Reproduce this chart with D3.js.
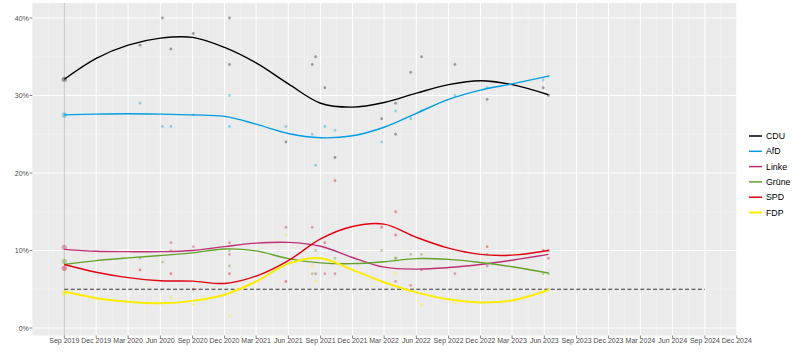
<!DOCTYPE html>
<html>
<head>
<meta charset="utf-8">
<script src="https://cdn.jsdelivr.net/npm/d3@7"></script>
<style>
  html, body { margin: 0; padding: 0; background: #ffffff; }
  svg { display: block; font-family: "Liberation Sans", Arial, sans-serif; }
</style>
</head>
<body>
<svg id="chart" width="800" height="356"></svg>
<script>
// ---------- data ----------
const parties = ["CDU", "AfD", "Linke", "Grüne", "SPD", "FDP"];
const partyColors = ["#000000", "#009EE0", "#BE3075", "#64A12D", "#E3000F", "#FFED00"];

const xTickLabels = ["Sep 2019","Dec 2019","Mar 2020","Jun 2020","Sep 2020","Dec 2020","Mar 2021","Jun 2021",
  "Sep 2021","Dec 2021","Mar 2022","Jun 2022","Sep 2022","Dec 2022","Mar 2023","Jun 2023","Sep 2023",
  "Dec 2023","Mar 2024","Jun 2024","Sep 2024","Dec 2024"];
const yTickValues = [0, 10, 20, 30, 40];
const yMinorValues = [5, 15, 25, 35];

const electionDates = ["2019-09-01", "2024-09-01"];
const thresholdValue = 5;

// polls (election result first)
const pollDates = ["2019-09-01","2020-04-04","2020-06-07","2020-07-01","2020-09-03","2020-12-15","2020-12-15",
  "2021-05-25","2021-08-08","2021-08-18","2021-09-13","2021-10-12","2022-02-22","2022-04-03","2022-04-03",
  "2022-05-16","2022-06-16","2022-09-19","2022-12-20","2023-05-29","2023-06-13"];
const pollCDU   = [32.1, 36.5, 40, 36, 38, 34, 40, 24, 34, 35, 31, 22, 27, 29, 25, 33, 35, 34, 29.5, 31, 30];
const pollAfD   = [27.5, 29, 26, 26, 27.5, 26, 30, 26, 25, 21, 26, 25.5, 24, 28, null, 27, 28, 30, 31, 32, 32.5];
const pollLinke = [10.4, null, null, 11, 10.5, 11, 9.5, 13, 13, 7, 7, 7, null, 6, null, 5.5, 7.5, 7, 8, null, 9];
const pollGruene= [8.6, 9, 8.5, 10, null, 10, 8, null, 7, 10, null, 9, 10, 9, 9, 9.5, 9.5, null, 9.5, 7, 7];
const pollSPD   = [7.7, 7.5, null, 7, 5, 7, null, 6, null, null, 11, 19, 13, 15, 12, null, null, null, 10.5, 10, 10];
const pollFDP   = [4.5, null, null, 4, 3, 1.6, null, 12, 8, 6, null, null, null, null, 7, null, 3, 3.2, null, null, 5];

// smoothed trend lines
const trendDates = ["2019-09-01","2019-12-01","2020-03-01","2020-06-01","2020-09-01","2020-12-01","2021-03-01",
  "2021-06-01","2021-09-01","2021-12-01","2022-03-01","2022-06-01","2022-09-01","2022-12-01","2023-03-01","2023-06-13"];
const trendCDU   = [32.1, 34.8, 36.5, 37.4, 37.5, 36.2, 34.2, 31.5, 29.0, 28.5, 29.1, 30.3, 31.4, 31.9, 31.4, 30.1];
const trendAfD   = [27.5, 27.6, 27.65, 27.6, 27.5, 27.3, 26.3, 25.1, 24.55, 24.8, 25.9, 27.7, 29.5, 30.7, 31.5, 32.5];
const trendLinke = [10.15, 9.9, 9.85, 9.85, 10.0, 10.5, 10.95, 11.05, 10.55, 9.1, 7.85, 7.6, 7.8, 8.2, 8.75, 9.5];
const trendGruene= [8.2, 8.7, 9.05, 9.35, 9.7, 10.2, 9.95, 8.95, 8.4, 8.3, 8.55, 8.95, 8.85, 8.45, 7.9, 7.1];
const trendSPD   = [8.2, 7.2, 6.5, 6.1, 6.05, 5.75, 6.7, 8.7, 11.5, 13.1, 13.4, 11.7, 10.3, 9.5, 9.4, 10.0];
const trendFDP   = [4.7, 3.85, 3.4, 3.2, 3.5, 4.3, 6.0, 8.3, 9.0, 7.5, 5.9, 4.6, 3.7, 3.3, 3.55, 4.9];

// ---------- build ----------
const pollSeries = [pollCDU, pollAfD, pollLinke, pollGruene, pollSPD, pollFDP];
const trendSeries = [trendCDU, trendAfD, trendLinke, trendGruene, trendSPD, trendFDP];
const parseDate = d3.utcParse("%Y-%m-%d");
const parseTick = d3.utcParse("%b %Y");

const svg = d3.select("#chart");
const panel = { left: 32.3, right: 736.9, top: 3, bottom: 335.5 };

const x = d3.scaleUtc()
  .domain([parseDate(electionDates[0]), parseDate(electionDates[1])])
  .range([64.3, 704.9]);
const y = d3.scaleLinear().domain([0, 40]).range([328, 18]);

// panel background
svg.append("rect")
  .attr("x", panel.left).attr("y", panel.top)
  .attr("width", panel.right - panel.left).attr("height", panel.bottom - panel.top)
  .attr("fill", "#EBEBEB");

const grid = svg.append("g");
const xTicks = xTickLabels.map(s => parseTick(s));
// minor vertical grid (midpoints)
for (let i = 0; i < xTicks.length - 1; i++) {
  const mx = (x(xTicks[i]) + x(xTicks[i + 1])) / 2;
  grid.append("line").attr("x1", mx).attr("x2", mx).attr("y1", panel.top).attr("y2", panel.bottom)
    .attr("stroke", "#F4F4F4").attr("stroke-width", 0.6);
}
{
  const mx = x(xTicks[0]) - (x(xTicks[1]) - x(xTicks[0])) / 2;
  grid.append("line").attr("x1", mx).attr("x2", mx).attr("y1", panel.top).attr("y2", panel.bottom)
    .attr("stroke", "#F4F4F4").attr("stroke-width", 0.6);
}
yMinorValues.forEach(v => {
  grid.append("line").attr("x1", panel.left).attr("x2", panel.right).attr("y1", y(v)).attr("y2", y(v))
    .attr("stroke", "#F4F4F4").attr("stroke-width", 0.6);
});
// major grid
xTicks.forEach(t => {
  grid.append("line").attr("x1", x(t)).attr("x2", x(t)).attr("y1", panel.top).attr("y2", panel.bottom)
    .attr("stroke", "#FFFFFF").attr("stroke-width", 1);
});
yTickValues.forEach(v => {
  grid.append("line").attr("x1", panel.left).attr("x2", panel.right).attr("y1", y(v)).attr("y2", y(v))
    .attr("stroke", "#FFFFFF").attr("stroke-width", 1);
});

// election vertical line (first election)
svg.append("line")
  .attr("x1", x(parseDate(electionDates[0]))).attr("x2", x(parseDate(electionDates[0])))
  .attr("y1", panel.top).attr("y2", panel.bottom)
  .attr("stroke", "#C4C4C4").attr("stroke-width", 1);

// poll points
const pts = svg.append("g");
pollSeries.forEach((vals, pi) => {
  vals.forEach((v, i) => {
    if (v === null) return;
    pts.append("circle")
      .attr("cx", x(parseDate(pollDates[i])))
      .attr("cy", y(v))
      .attr("r", i === 0 ? 2.6 : 1.4)
      .attr("fill", partyColors[pi])
      .attr("fill-opacity", pi === 0 ? 0.35 : 0.4);
  });
});

// threshold dashed line
svg.append("line")
  .attr("x1", x(parseDate(electionDates[0]))).attr("x2", x(parseDate(electionDates[1])))
  .attr("y1", y(thresholdValue)).attr("y2", y(thresholdValue))
  .attr("stroke", "#333333").attr("stroke-width", 1.1).attr("stroke-dasharray", "4,2.4");

// trend lines
const line = d3.line()
  .x((d, i) => x(parseDate(trendDates[i])))
  .y(d => y(d))
  .curve(d3.curveCatmullRom.alpha(0.5));
trendSeries.forEach((vals, pi) => {
  svg.append("path")
    .attr("d", line(vals))
    .attr("fill", "none")
    .attr("stroke", partyColors[pi])
    .attr("stroke-width", pi === 5 ? 2 : 1.4);
});

// axes
const axisG = svg.append("g").attr("fill", "#4D4D4D").attr("font-size", 7);
xTicks.forEach((t, i) => {
  const tx = x(t);
  svg.append("line").attr("x1", tx).attr("x2", tx).attr("y1", panel.bottom).attr("y2", panel.bottom + 2.7)
    .attr("stroke", "#333333").attr("stroke-width", 0.6);
  axisG.append("text").attr("x", tx).attr("y", 343.3).attr("text-anchor", "middle").text(xTickLabels[i]);
});
yTickValues.forEach(v => {
  svg.append("line").attr("x1", panel.left - 2.7).attr("x2", panel.left).attr("y1", y(v)).attr("y2", y(v))
    .attr("stroke", "#333333").attr("stroke-width", 0.6);
  axisG.append("text").attr("x", 28.8).attr("y", y(v) + 2.5).attr("text-anchor", "end").text(v + "%");
});

// legend
const legend = svg.append("g");
parties.forEach((p, i) => {
  const ly = 136 + i * 15.3;
  legend.append("line").attr("x1", 749).attr("x2", 762).attr("y1", ly).attr("y2", ly)
    .attr("stroke", partyColors[i]).attr("stroke-width", i === 5 ? 2 : 1.5);
  legend.append("text").attr("x", 766).attr("y", ly + 3.1).attr("font-size", 8.8).attr("fill", "#000000").text(p);
});
</script>
</body>
</html>
